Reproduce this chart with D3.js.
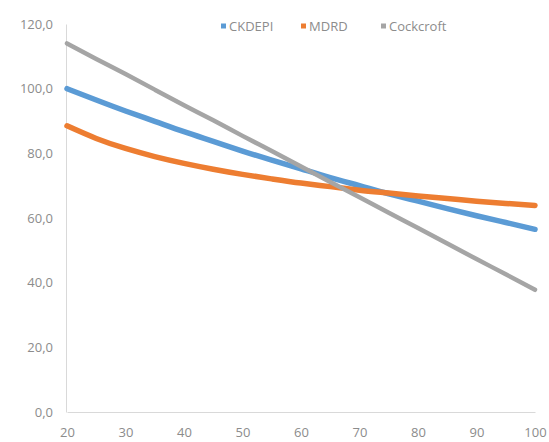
<!DOCTYPE html>
<html>
<head>
<meta charset="utf-8">
<script src="https://cdn.jsdelivr.net/npm/d3@7"></script>
<style>
  body { margin: 0; background: #fff; }
  svg { display: block; }
</style>
</head>
<body>
<div id="chart"></div>
<script>
'use strict';

// ages on the x axis
const ages = [20, 25, 30, 35, 40, 45, 50, 55, 60, 65, 70, 75, 80, 85, 90, 95, 100];

// values
const ckdepi = [100.0, 96.5, 93.1, 89.9, 86.7, 83.7, 80.7, 77.9, 75.2, 72.5, 70.0, 67.5, 65.2, 62.9, 60.7, 58.6, 56.5];
const mdrd = [88.5, 84.6, 81.5, 79.0, 76.9, 75.1, 73.5, 72.1, 70.8, 69.7, 68.6, 67.7, 66.8, 66.0, 65.2, 64.5, 63.9];
const cockcroft = [114.0, 109.2, 104.5, 99.7, 94.9, 90.2, 85.4, 80.7, 75.9, 71.1, 66.4, 61.6, 56.9, 52.1, 47.3, 42.6, 37.8];

const series_names = ['CKDEPI', 'MDRD', 'Cockcroft'];
const series_colors = ['#5B9BD5', '#ED7D31', '#A5A5A5'];
const x_ticks = [20, 30, 40, 50, 60, 70, 80, 90, 100];
const y_ticks = [0, 20, 40, 60, 80, 100, 120];

const dims = {
  width: 549,
  height: 442,
  left: 66,
  right: 14,
  top: 24,
  bottom: 30
}
dims.ctrWidth = dims.width - dims.left - dims.right
dims.ctrHeight = dims.height - dims.top - dims.bottom

const svg = d3.select('#chart')
  .append('svg')
  .attr('width', dims.width)
  .attr('height', dims.height)

const chart_g = svg.append('g')
  .attr('transform', `translate(${dims.left}, ${dims.top})`)

const x_scale = d3.scaleLinear()
  .domain([20, 100])
  .range([1, dims.ctrWidth])

const y_scale = d3.scaleLinear()
  .domain([0, 120])
  .range([dims.ctrHeight, 0])

const fmt = d => d3.format('.1f')(d).replace('.', ',')

// y axis
const yAxisGroup = chart_g.append('g')
  .call(d3.axisLeft(y_scale).tickValues(y_ticks).tickFormat(fmt).tickSize(0).tickPadding(13))
yAxisGroup.select('.domain').attr('stroke', '#d9d9d9')
yAxisGroup.selectAll('text')
  .style('font-family', '"Open Sans", sans-serif')
  .style('font-size', '13px')
  .attr('fill', '#8c8c8c')

// x axis
const xAxisGroup = chart_g.append('g')
  .attr('transform', `translate(0, ${dims.ctrHeight})`)
  .call(d3.axisBottom(x_scale).tickValues(x_ticks).tickSize(0).tickPadding(16))
xAxisGroup.select('.domain').attr('stroke', '#d9d9d9')
xAxisGroup.selectAll('text')
  .style('font-family', '"Open Sans", sans-serif')
  .style('font-size', '13px')
  .attr('fill', '#8c8c8c')

// lines
const all_series = [ckdepi, mdrd, cockcroft]
const line = d3.line()
  .x((d, i) => x_scale(ages[i]))
  .y(d => y_scale(d))
  .curve(d3.curveNatural)

chart_g.append('g')
  .selectAll('path')
  .data(all_series)
  .join('path')
  .attr('d', d => line(d))
  .attr('fill', 'none')
  .attr('stroke', (d, i) => series_colors[i])
  .attr('stroke-width', (d, i) => i === 2 ? 4.5 : 5.5)
  .attr('stroke-linecap', 'round')

// legend
const legend_x = [221, 301, 381]
const legendGroup = svg.append('g')
  .selectAll('g')
  .data(series_names)
  .join('g')
  .attr('transform', (d, i) => `translate(${legend_x[i]}, 26)`)

legendGroup.append('rect')
  .attr('x', 0)
  .attr('y', -2.5)
  .attr('width', 5)
  .attr('height', 5)
  .attr('fill', (d, i) => series_colors[i])

legendGroup.append('text')
  .attr('x', 8)
  .attr('y', 0)
  .attr('dy', '0.35em')
  .style('font-family', '"Open Sans", sans-serif')
  .style('font-size', '13px')
  .attr('fill', '#8c8c8c')
  .text(d => d)
</script>
</body>
</html>
